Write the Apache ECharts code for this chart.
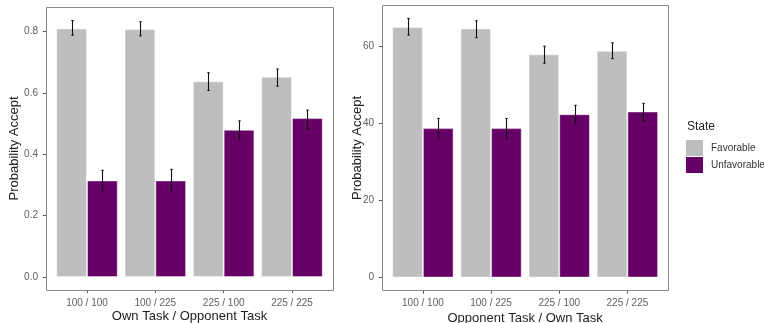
<!DOCTYPE html>
<html>
<head>
<meta charset="utf-8">
<script src="https://cdn.jsdelivr.net/npm/echarts@6/dist/echarts.min.js"></script>
<style>html,body{margin:0;padding:0;background:#fff}#c{width:764px;height:323px}</style>
</head>
<body>
<div id="c"></div>
<script>
// ---- data ----
const categories = ['100 / 100', '100 / 225', '225 / 100', '225 / 225'];
const seriesNames = ['Favorable', 'Unfavorable'];

const leftFav = [0.810, 0.808, 0.638, 0.653];
const leftFavLow = [0.788, 0.786, 0.608, 0.622];
const leftFavHigh = [0.836, 0.832, 0.666, 0.678];
const leftUnf = [0.315, 0.315, 0.480, 0.518];
const leftUnfLow = [0.281, 0.281, 0.447, 0.483];
const leftUnfHigh = [0.348, 0.351, 0.509, 0.544];

const rightFav = [64.9, 64.5, 57.8, 58.7];
const rightFavLow = [62.8, 62.1, 55.5, 56.7];
const rightFavHigh = [67.1, 66.5, 59.9, 60.8];
const rightUnf = [38.7, 38.7, 42.3, 43.0];
const rightUnfLow = [36.1, 36.0, 40.0, 40.6];
const rightUnfHigh = [41.2, 41.2, 44.6, 45.1];

const leftTicks = [0, 0.2, 0.4, 0.6, 0.8];
const rightTicks = [0, 20, 40, 60];

const leftXTitle = 'Own Task / Opponent Task';
const rightXTitle = 'Opponent Task / Own Task';
const yTitle = 'Probability Accept';
const legendTitle = 'State';

// ---- styling / layout ----
const FONT = 'Liberation Sans, Arial, sans-serif';
const colors = ['#bebebe', '#660066'];
const borderCol = '#8a8a8a';
const W = 764;

const panels = [
  { x0: 46, x1: 333, y0: 7, y1: 290 },
  { x0: 382, x1: 668.3, y0: 5.3, y1: 290.7 }
];
function inner(p) {
  const unit = (p.x1 - p.x0) / 4.2;
  return { left: p.x0 + 0.1 * unit, right: W - (p.x1 - 0.1 * unit), top: p.y0, bottom: 323 - p.y1, off: 0.1 * unit };
}
const g0 = inner(panels[0]);
const g1 = inner(panels[1]);

function zip3(lo, hi) { return lo.map((v, i) => [i, v, hi[i]]); }

function errRender(side) {
  return function (params, api) {
    const i = api.value(0);
    const lo = api.coord([i, api.value(1)]);
    const hi = api.coord([i, api.value(2)]);
    const band = api.size([1, 0])[0];
    const x = Math.round(lo[0] + side * 0.225 * band) + 0.5;
    const cap = 1.2;
    const st = { stroke: '#111', lineWidth: 1.1 };
    return {
      type: 'group', children: [
        { type: 'line', shape: { x1: x, y1: lo[1], x2: x, y2: hi[1] }, style: st },
        { type: 'line', shape: { x1: x - cap, y1: lo[1], x2: x + cap, y2: lo[1] }, style: st },
        { type: 'line', shape: { x1: x - cap, y1: hi[1], x2: x + cap, y2: hi[1] }, style: st }
      ]
    };
  };
}

const tickLabelStyle = { color: '#606060', fontSize: 10, fontFamily: FONT };
const nameStyle = { color: '#222', fontSize: 13, fontFamily: FONT };

function xAxisFor(idx, title, gap) {
  return {
    type: 'category', gridIndex: idx, data: categories, position: 'bottom',
    boundaryGap: true,
    axisLine: { show: false, onZero: false },
    axisTick: { show: true, alignWithLabel: true, length: 3, lineStyle: { color: '#555' } },
    axisLabel: Object.assign({ margin: 8 }, tickLabelStyle),
    name: title, nameLocation: 'middle', nameGap: gap, nameMoveOverlap: false, nameTextStyle: nameStyle,
    splitLine: { show: false }
  };
}
function yAxisFor(idx, min, max, ticks, off, digits, gap) {
  return {
    type: 'value', gridIndex: idx, min: min, max: max, offset: off,
    axisLine: { show: false },
    axisTick: { show: true, length: 3, customValues: ticks, lineStyle: { color: '#555' } },
    axisLabel: Object.assign({ margin: 8, customValues: ticks, formatter: v => Number(v).toFixed(digits) }, tickLabelStyle),
    splitLine: { show: false },
    name: yTitle, nameLocation: 'middle', nameGap: gap, nameRotate: 90, nameMoveOverlap: false, nameTextStyle: nameStyle
  };
}

const barCommon = {
  type: 'bar', barWidth: '45%', barGap: '0%',
  itemStyle: { borderColor: 'rgba(255,255,255,0.45)', borderWidth: 1 }
};

const chart = echarts.init(document.getElementById('c'), null, { renderer: 'canvas' });
chart.setOption({
  animation: false,
  backgroundColor: '#fff',
  color: colors,
  textStyle: { fontFamily: FONT },
  title: {
    text: legendTitle, left: 687, top: 121, padding: 0,
    textStyle: { fontSize: 12, fontWeight: 'normal', color: '#222', fontFamily: FONT }
  },
  legend: {
    data: seriesNames, orient: 'vertical', left: 686, top: 140, padding: 0,
    itemWidth: 17, itemHeight: 16, itemGap: 1, icon: 'rect',
    itemStyle: { borderWidth: 0 },
    textStyle: { fontSize: 10, color: '#333', fontFamily: FONT, padding: [0, 0, 0, 3] }
  },
  grid: [
    { left: g0.left, right: g0.right, top: g0.top, bottom: g0.bottom, containLabel: false, outerBoundsMode: 'none' },
    { left: g1.left, right: g1.right, top: g1.top, bottom: g1.bottom, containLabel: false, outerBoundsMode: 'none' }
  ],
  xAxis: [xAxisFor(0, leftXTitle, 20), xAxisFor(1, rightXTitle, 21.5)],
  yAxis: [
    yAxisFor(0, -0.042, 0.88, leftTicks, g0.off, 1, 25),
    yAxisFor(1, -3.4, 70.5, rightTicks, g1.off, 0, 18.5)
  ],
  graphic: panels.map(p => ({
    type: 'rect', silent: true, z: 100,
    shape: { x: Math.round(p.x0) + 0.5, y: Math.round(p.y0) + 0.5, width: Math.round(p.x1 - p.x0), height: Math.round(p.y1 - p.y0) },
    style: { fill: 'none', stroke: borderCol, lineWidth: 1 }
  })),
  series: [
    Object.assign({}, barCommon, { name: seriesNames[0], xAxisIndex: 0, yAxisIndex: 0, data: leftFav }),
    Object.assign({}, barCommon, { name: seriesNames[1], xAxisIndex: 0, yAxisIndex: 0, data: leftUnf }),
    Object.assign({}, barCommon, { name: seriesNames[0], xAxisIndex: 1, yAxisIndex: 1, data: rightFav }),
    Object.assign({}, barCommon, { name: seriesNames[1], xAxisIndex: 1, yAxisIndex: 1, data: rightUnf }),
    { type: 'custom', xAxisIndex: 0, yAxisIndex: 0, renderItem: errRender(-1), data: zip3(leftFavLow, leftFavHigh), encode: { x: 0, y: [1, 2] }, z: 10 },
    { type: 'custom', xAxisIndex: 0, yAxisIndex: 0, renderItem: errRender(1), data: zip3(leftUnfLow, leftUnfHigh), encode: { x: 0, y: [1, 2] }, z: 10 },
    { type: 'custom', xAxisIndex: 1, yAxisIndex: 1, renderItem: errRender(-1), data: zip3(rightFavLow, rightFavHigh), encode: { x: 0, y: [1, 2] }, z: 10 },
    { type: 'custom', xAxisIndex: 1, yAxisIndex: 1, renderItem: errRender(1), data: zip3(rightUnfLow, rightUnfHigh), encode: { x: 0, y: [1, 2] }, z: 10 }
  ]
});
</script>
</body>
</html>
